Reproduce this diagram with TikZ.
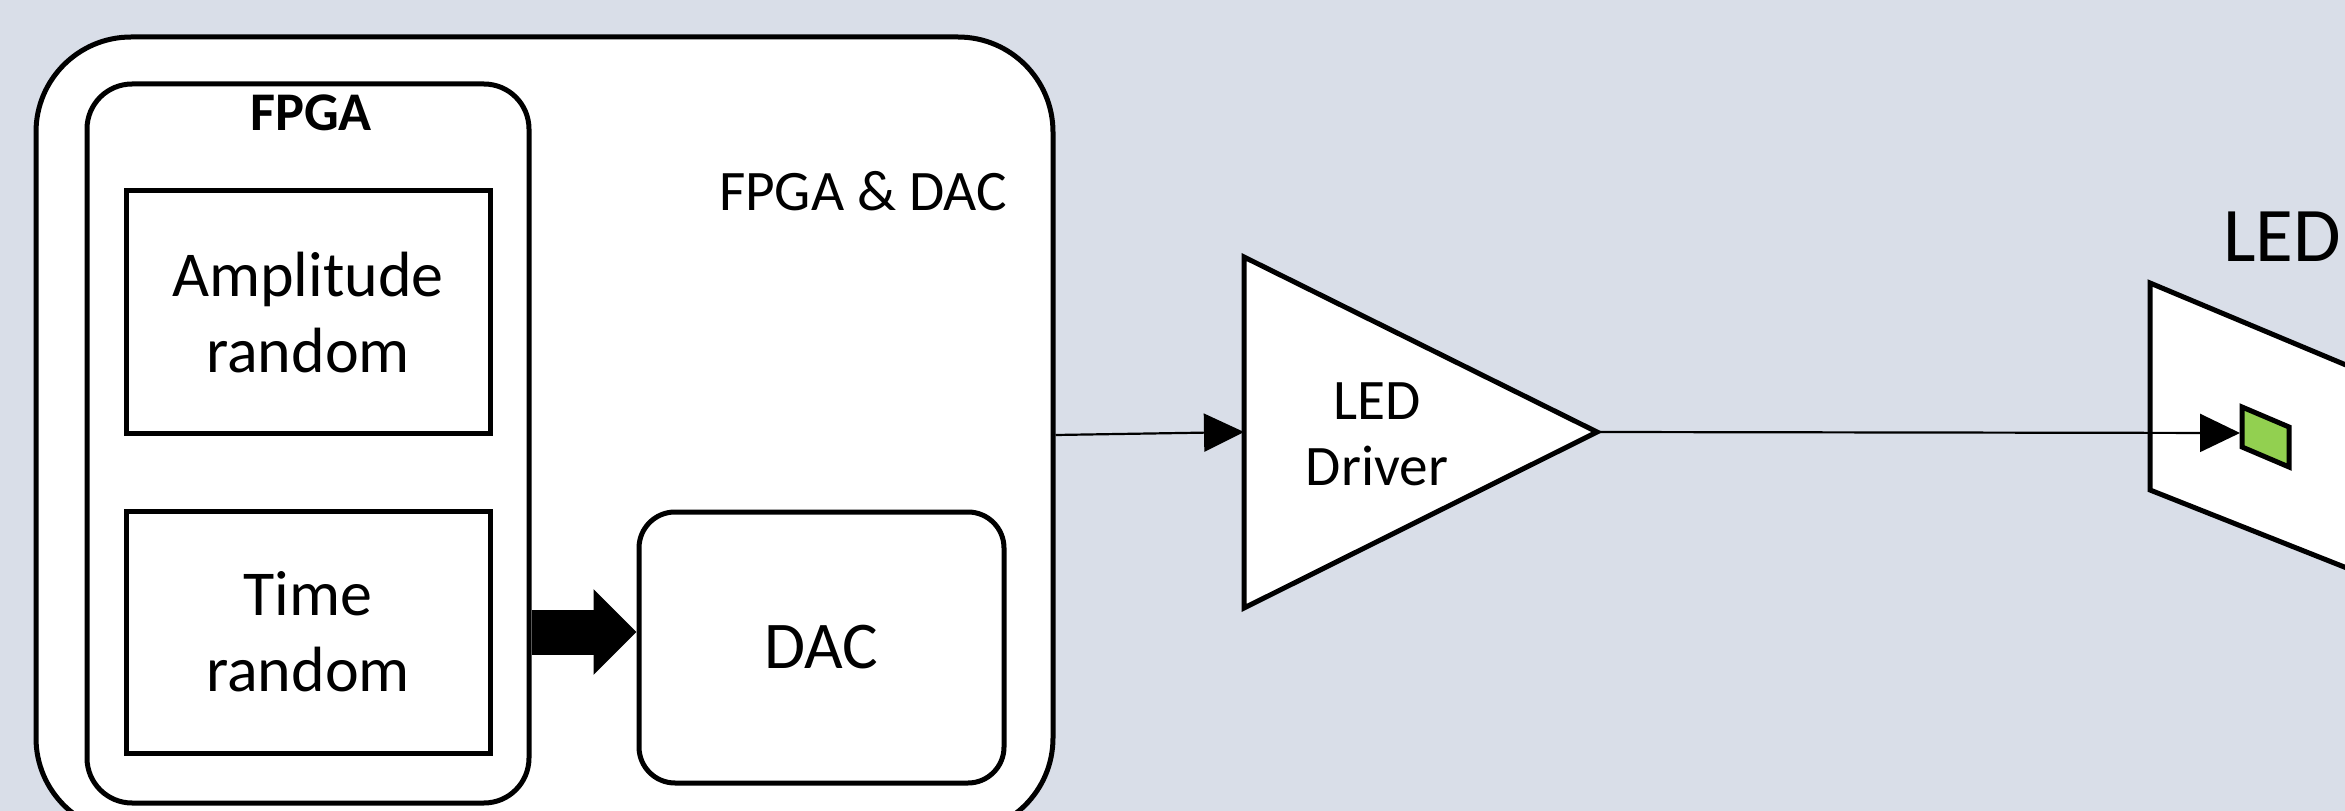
\documentclass[tikz,border=0pt]{standalone}
\usepackage{fontspec}
\setmainfont{Carlito}
\usepackage{xcolor}
\usepackage{tikz}
\usetikzlibrary{arrows.meta, positioning, calc}
\definecolor{SlideBg}{RGB}{217, 222, 232}
\definecolor{LedGreen}{RGB}{146, 208, 80}

\begin{document}
\begin{tikzpicture}[x=0.1mm,y=-0.1mm,
  blockbox/.style={draw=black, fill=white, line width=0.5mm, inner sep=0pt},
  outline/.style={draw=black, fill=white, line width=0.5mm},
  wire/.style={draw=black, line width=0.22mm, -{Triangle[length=4mm,width=3.8mm]}},
  boxtext/.style={align=center, font=\fontsize{18.2}{21.6}\selectfont}]
  \path[use as bounding box] (0,0) rectangle (2345,811);
  \clip (0,0) rectangle (2345,811);
  \fill[SlideBg] (0,0) rectangle (2345,811);

  % board holding FPGA and DAC
  \node[blockbox, rounded corners=9.5mm, minimum width=101.7mm, minimum height=79.6mm] (board) at (544.5,435) {};
  \node[font=\fontsize{16.3}{18}\selectfont] (boardlabel) at (863,191) {FPGA \& DAC};

  \node[blockbox, rounded corners=4.5mm, minimum width=44.2mm, minimum height=71.9mm] (fpga) at (308,443.5) {};
  \node[font=\fontsize{15.5}{17}\selectfont\bfseries] (fpgalabel) at (311,113) {FPGA};
  \node[blockbox, boxtext, minimum width=36.4mm, minimum height=24.3mm] (amprand) at (308,312.5) {Amplitude\\random};
  \node[blockbox, boxtext, minimum width=36.4mm, minimum height=24.2mm] (timerand) at (308,632) {Time\\random};

  \node[blockbox, rounded corners=3.6mm, minimum width=36.5mm, minimum height=27.1mm,
        font=\fontsize{19}{21}\selectfont] (dac) at (821.5,647.5) {DAC};
  \draw[line width=4.5mm, -{Triangle[length=4.3mm,width=8.3mm]}] (fpga.east |- timerand) -- (dac.west |- timerand);

  % driver
  \coordinate (drvin) at (1244,432);
  \coordinate (drvout) at (1597,432);
  \draw[outline] (1244,257) -- (drvout) -- (1244,608) -- cycle;
  \node[align=center, font=\fontsize{16.3}{18.8}\selectfont] (drvlabel) at (1377,434) {LED\\Driver};
  \draw[wire] (board.east) -- (drvin);

  % LED panel
  \node[font=\fontsize{22}{26}\selectfont] (ledlabel) at (2282,237) {LED};
  \draw[outline] (2150,283) -- (2420,396) -- (2420,597) -- (2150,490) -- cycle;
  \coordinate (chip) at (2240,433);
  \draw[wire] (drvout) -- (chip);
  \draw[line width=0.5mm, fill=LedGreen] (2242,407) -- (2289,427) -- (2289,467) -- (2242,447) -- cycle;
\end{tikzpicture}
\end{document}
